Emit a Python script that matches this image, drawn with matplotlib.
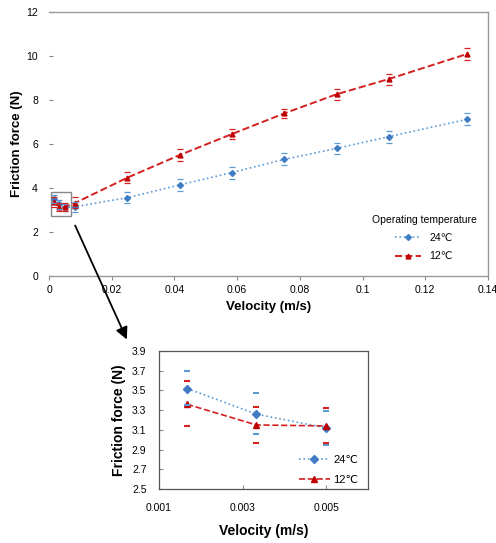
import numpy as np
import matplotlib.pyplot as plt
from matplotlib.patches import Rectangle

plt.rcParams['font.family'] = ['Liberation Sans', 'DejaVu Sans', 'Noto Sans CJK SC']

# Main chart data
velocity = [0.00167, 0.00333, 0.005, 0.0083, 0.025, 0.0417, 0.0583, 0.075, 0.0917, 0.1083, 0.1333]
force_24 = [3.52, 3.26, 3.12, 3.15, 3.56, 4.14, 4.70, 5.30, 5.80, 6.33, 7.12]
err_24 = [0.18, 0.21, 0.17, 0.22, 0.25, 0.27, 0.27, 0.27, 0.26, 0.27, 0.27]
force_12 = [3.36, 3.15, 3.14, 3.32, 4.47, 5.50, 6.45, 7.39, 8.26, 8.95, 10.09]
err_12 = [0.23, 0.18, 0.18, 0.25, 0.25, 0.27, 0.22, 0.22, 0.25, 0.25, 0.27]

# Zoomed inset data (first three velocities)
vel_zoom = [0.00167, 0.00333, 0.005]
f24_zoom = [3.52, 3.26, 3.12]
f24_lo = [3.35, 3.06, 2.95]
f24_hi = [3.70, 3.47, 3.29]
f12_zoom = [3.36, 3.15, 3.14]
f12_lo = [3.14, 2.97, 2.97]
f12_hi = [3.60, 3.33, 3.32]

blue = '#3F7CC4'
blue_line = '#5B9BD5'
red = '#C00000'
red_line = '#D42020'

fig = plt.figure(figsize=(4.96, 5.43), dpi=100)

# ---------- main plot ----------
ax = fig.add_axes([0.0988, 0.4917, 0.885, 0.4862])
ax.plot(velocity, force_24, linestyle=':', color=blue_line, lw=1.2,
        marker='D', ms=3, mfc=blue, mec=blue, label='24℃')
ax.plot(velocity, force_12, linestyle='--', color=red_line, lw=1.4,
        marker='^', ms=3.5, mfc=red, mec=red, label='12℃')
ax.errorbar(velocity, force_24, yerr=err_24, fmt='none', ecolor=blue_line,
            elinewidth=0, capsize=2.5, capthick=0.9)
ax.errorbar(velocity, force_12, yerr=err_12, fmt='none', ecolor=red_line,
            elinewidth=0, capsize=2.5, capthick=0.9)

ax.set_xlim(0, 0.14)
ax.set_ylim(0, 12)
ax.set_xticks(np.arange(0, 0.141, 0.02))
ax.set_xticklabels(['0', '0.02', '0.04', '0.06', '0.08', '0.1', '0.12', '0.14'])
ax.set_yticks(np.arange(0, 12.1, 2))
ax.tick_params(axis='y', direction='in', length=3, color='#888888', labelsize=7.5, pad=8)
ax.tick_params(axis='x', direction='out', length=3, color='#888888', labelsize=7.5)
ax.spines['left'].set_visible(False)
for s in ['top', 'right', 'bottom']:
    ax.spines[s].set_color('#999999')
    ax.spines[s].set_linewidth(1.0)
ax.set_xlabel('Velocity (m/s)', fontsize=9.5, fontweight='bold', labelpad=4)
ax.set_ylabel('Friction force (N)', fontsize=9.5, fontweight='bold', labelpad=2)
ax.legend(title='Operating temperature', loc='lower right', frameon=False,
          fontsize=7.5, title_fontsize=7.5, handlelength=2.5,
          bbox_to_anchor=(0.995, 0.02), labelspacing=0.8)

# rectangle marking the zoomed region
ax.add_patch(Rectangle((0.0006, 2.73), 0.0064, 1.09, fill=False,
                       edgecolor='#888888', lw=1.0))

# arrow to inset
ax.annotate('', xy=(128 / 496, 1 - 342 / 543), xycoords='figure fraction',
            xytext=(74 / 496, 1 - 223 / 543), textcoords='figure fraction',
            arrowprops=dict(arrowstyle='-|>', color='black', lw=1.3,
                            mutation_scale=18))

# ---------- inset ----------
ax2 = fig.add_axes([0.3206, 0.0994, 0.4214, 0.2541])
ax2.plot(vel_zoom, f24_zoom, linestyle=':', color=blue_line, lw=1.2,
         marker='D', ms=4, mfc=blue, mec=blue, label='24℃')
ax2.plot(vel_zoom, f12_zoom, linestyle='--', color=red_line, lw=1.2,
         marker='^', ms=4.5, mfc=red, mec=red, label='12℃')
ax2.plot(vel_zoom, f24_hi, linestyle='none', marker='_', ms=5, mew=1.5, color=blue_line)
ax2.plot(vel_zoom, f24_lo, linestyle='none', marker='_', ms=5, mew=1.5, color=blue_line)
ax2.plot(vel_zoom, f12_hi, linestyle='none', marker='_', ms=5, mew=1.5, color=red_line)
ax2.plot(vel_zoom, f12_lo, linestyle='none', marker='_', ms=5, mew=1.5, color=red_line)

ax2.set_xlim(0.001, 0.006)
ax2.set_ylim(2.5, 3.9)
ax2.set_xticks([0.001, 0.003, 0.005])
ax2.set_xticklabels(['0.001', '0.003', '0.005'])
ax2.set_yticks(np.arange(2.5, 3.91, 0.2))
ax2.set_yticklabels(['2.5', '2.7', '2.9', '3.1', '3.3', '3.5', '3.7', '3.9'])
ax2.tick_params(axis='both', direction='in', length=3, color='#888888', labelsize=7.5)
ax2.tick_params(axis='x', pad=10)
ax2.tick_params(axis='y', pad=9)
for s in ax2.spines.values():
    s.set_color('#555555')
    s.set_linewidth(0.9)
ax2.set_xlabel('Velocity (m/s)', fontsize=10, fontweight='bold', labelpad=8)
ax2.set_ylabel('Friction force (N)', fontsize=10, fontweight='bold', labelpad=4)
ax2.legend(loc='lower right', frameon=False, fontsize=8, handlelength=2.8,
           bbox_to_anchor=(1.0, -0.04), labelspacing=0.9, handletextpad=0.3)

fig.savefig('out.png', dpi=100)
